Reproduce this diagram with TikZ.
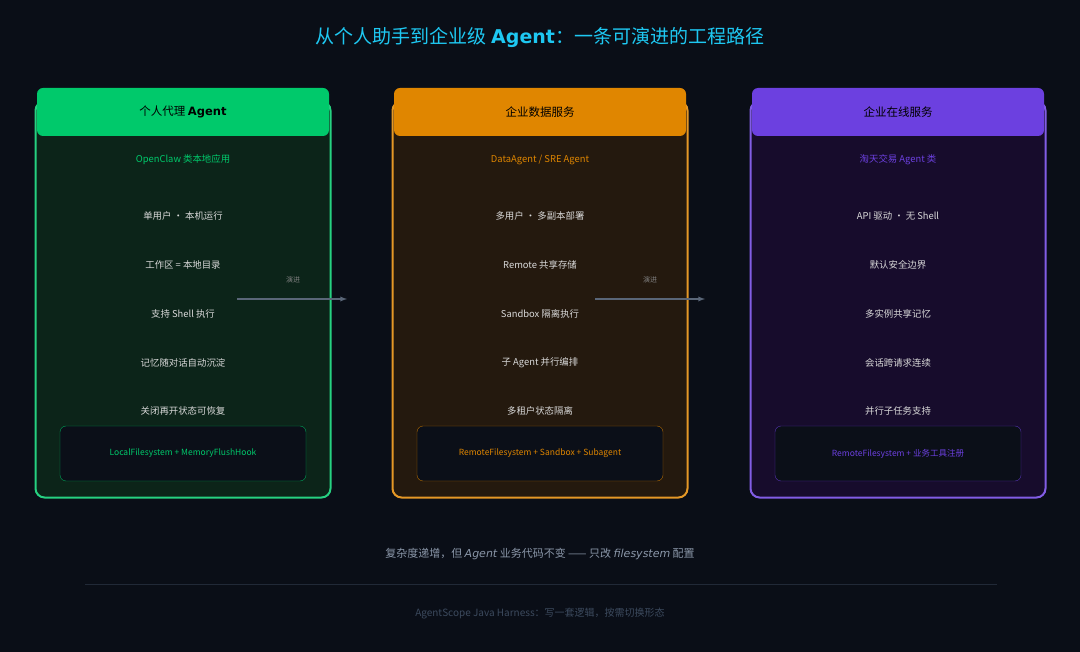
\documentclass[tikz,border=0pt]{standalone}
\usepackage{fontspec}
\setmainfont{Noto Sans CJK SC}
\newfontfamily\dv{DejaVu Sans}
\begin{document}
\begin{tikzpicture}[x=1pt,y=-1pt,
  ln/.style={font=\fontsize{9.4}{11}\selectfont,text=white!85!black},
  arr/.style={draw=gray!60!blue!55!black,line width=1.3pt,-latex}]
\definecolor{bg}{HTML}{0A0E17}
\definecolor{cg}{HTML}{00C96B}\definecolor{fg}{HTML}{0C2419}
\definecolor{co}{HTML}{E08600}\definecolor{fo}{HTML}{24190E}
\definecolor{cp}{HTML}{6C40E0}\definecolor{fp}{HTML}{170C2C}
\definecolor{bx}{HTML}{0B0F18}
\definecolor{tc}{HTML}{1EC8F2}
\definecolor{st}{HTML}{8A96A8}
\definecolor{ft}{HTML}{3C4A5E}
\definecolor{ar}{HTML}{5A6678}
\fill[bg] (0,0) rectangle (1080,652);
\useasboundingbox (0,0) rectangle (1080,652);
\node[text=tc,font=\fontsize{19}{22}\selectfont] (title) at (540,37) {从个人助手到企业级 {\dv\bfseries Agent}：一条可演进的工程路径};
\foreach \x/\c/\f/\h/\s/\la/\lb/\lc/\ld/\le/\bt/\id in {
 183/cg/fg/{个人代理 {\dv\bfseries Agent}}/{OpenClaw 类本地应用}/{单用户 · 本机运行}/{工作区 = 本地目录}/{支持 Shell 执行}/{记忆随对话自动沉淀}/{关闭再开状态可恢复}/{LocalFilesystem + MemoryFlushHook}/a,
 540/co/fo/{企业数据服务}/{DataAgent / SRE Agent}/{多用户 · 多副本部署}/{Remote 共享存储}/{Sandbox 隔离执行}/{子 Agent 并行编排}/{多租户状态隔离}/{RemoteFilesystem + Sandbox + Subagent}/b,
 898/cp/fp/{企业在线服务}/{淘天交易 Agent 类}/{API 驱动 · 无 Shell}/{默认安全边界}/{多实例共享记忆}/{会话跨请求连续}/{并行子任务支持}/{RemoteFilesystem + 业务工具注册}/c}{
 \node[draw=\c!85!white,line width=2pt,fill=\f,rounded corners=9pt,minimum width=295pt,minimum height=396pt] (card\id) at (\x,299.5) {};
 \node[fill=\c,rounded corners=6pt,minimum width=292pt,minimum height=48pt] (head\id) at (\x,112) {};
 \node[font=\fontsize{11.5}{13}\selectfont,text=black] at (\x,112) {\h};
 \node[ln,text=\c] at (\x,160) {\s};
 \node[ln] at (\x,216) {\la};
 \node[ln] at (\x,265) {\lb};
 \node[ln] at (\x,314) {\lc};
 \node[ln] at (\x,363) {\ld};
 \node[ln] at (\x,411) {\le};
 \node[draw=\c!80!black,fill=bx,rounded corners=6pt,minimum width=246pt,minimum height=55pt] (box\id) at (\x,453.5) {};
 \node[font=\fontsize{8.5}{10}\selectfont,text=\c] at (\x,453.5) {\bt};
}
\coordinate (a1) at (237,299);\coordinate (a2) at (347,299);
\coordinate (b1) at (595,299);\coordinate (b2) at (705,299);
\draw[arr,draw=ar] (a1) -- (a2);\draw[arr,draw=ar] (b1) -- (b2);
\node[font=\fontsize{7}{8}\selectfont,text=gray] at (293,280) {演进};
\node[font=\fontsize{7}{8}\selectfont,text=gray] at (650,280) {演进};
\node[font=\fontsize{11}{13}\selectfont,text=st] (sub) at (540,554) {复杂度递增，但 {\dv\itshape Agent} 业务代码不变 —— 只改 {\dv\itshape filesystem} 配置};
\draw[color=ft!45!bg,line width=0.8pt] (85,584) -- (997,584);
\node[font=\fontsize{10}{12}\selectfont,text=ft] (foot) at (540,614) {AgentScope Java Harness：写一套逻辑，按需切换形态};
\end{tikzpicture}
\end{document}
